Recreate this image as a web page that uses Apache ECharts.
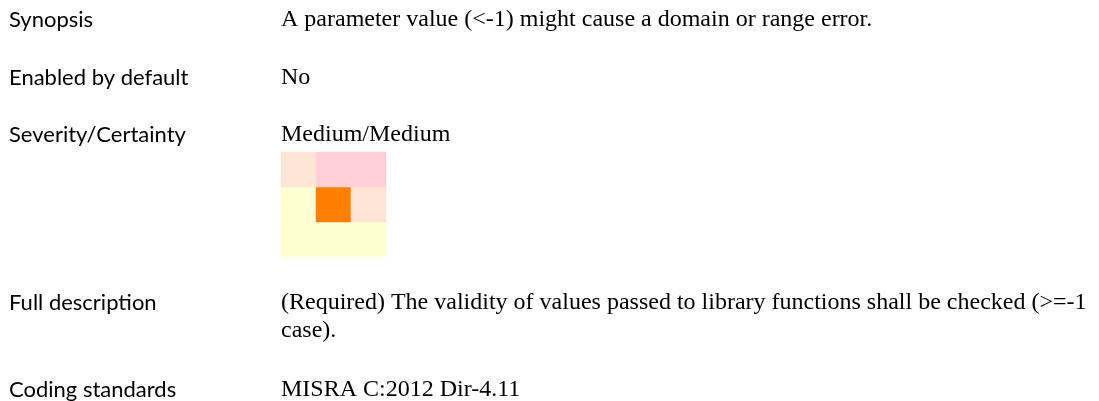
<!DOCTYPE html>
<html>
<head>
<meta charset="utf-8">
<script src="https://cdn.jsdelivr.net/npm/echarts@6/dist/echarts.min.js"></script>
<style>
html,body{margin:0;padding:0;background:#fff;}
#c{width:1099px;height:401px;}
</style>
</head>
<body>
<div id="c"></div>
<script>
// Field labels and values
var labels = ['Synopsis', 'Enabled by default', 'Severity/Certainty', 'Full description', 'Coding standards'];
var values = [
  ['A parameter value (<-1) might cause a domain or range error.'],
  ['No'],
  ['Medium/Medium'],
  ['(Required) The validity of values passed to library functions shall be checked (>=-1', 'case).'],
  ['MISRA C:2012 Dir-4.11']
];
// Heatmap matrix (severity x certainty), level codes
var xCats = ['Low', 'Medium', 'High'];
var yCats = ['Low', 'Medium', 'High'];
// rows from bottom (y index 0) to top (y index 2)
var rowBottom = [1, 1, 1];
var rowMiddle = [1, 4, 2];
var rowTop = [2, 3, 3];

var heatData = [];
[rowBottom, rowMiddle, rowTop].forEach(function (row, yi) {
  row.forEach(function (v, xi) { heatData.push([xi, yi, v]); });
});

var labelFont = '22px Lato, "Open Sans", sans-serif';
var valueFont = '24px "Liberation Serif", "DejaVu Serif", serif';
var rowMid = [20, 78, 135, 303, 390];
var lineGap = 28;
var valueX = 281;

var graphics = [];
labels.forEach(function (l, i) {
  graphics.push({type: 'text', x: 9, y: rowMid[i], style: {text: l, font: labelFont, fill: '#000', verticalAlign: 'middle'}});
  values[i].forEach(function (v, j) {
    graphics.push({type: 'text', x: valueX, y: rowMid[i] + j * lineGap, style: {text: v, font: valueFont, fill: '#000', verticalAlign: 'middle'}});
  });
});

var chart = echarts.init(document.getElementById('c'));
chart.setOption({
  animation: false,
  grid: {left: 281, top: 152, width: 105, height: 105},
  xAxis: {type: 'category', data: xCats, show: false},
  yAxis: {type: 'category', data: yCats, show: false},
  visualMap: {
    type: 'piecewise', show: false, dimension: 2,
    pieces: [
      {value: 1, color: '#ffffd2'},
      {value: 2, color: '#ffe5d6'},
      {value: 3, color: '#ffd1d7'},
      {value: 4, color: '#ff8000'}
    ]
  },
  series: [{type: 'heatmap', data: heatData, itemStyle: {borderWidth: 0}}],
  graphic: graphics
});
</script>
</body>
</html>
